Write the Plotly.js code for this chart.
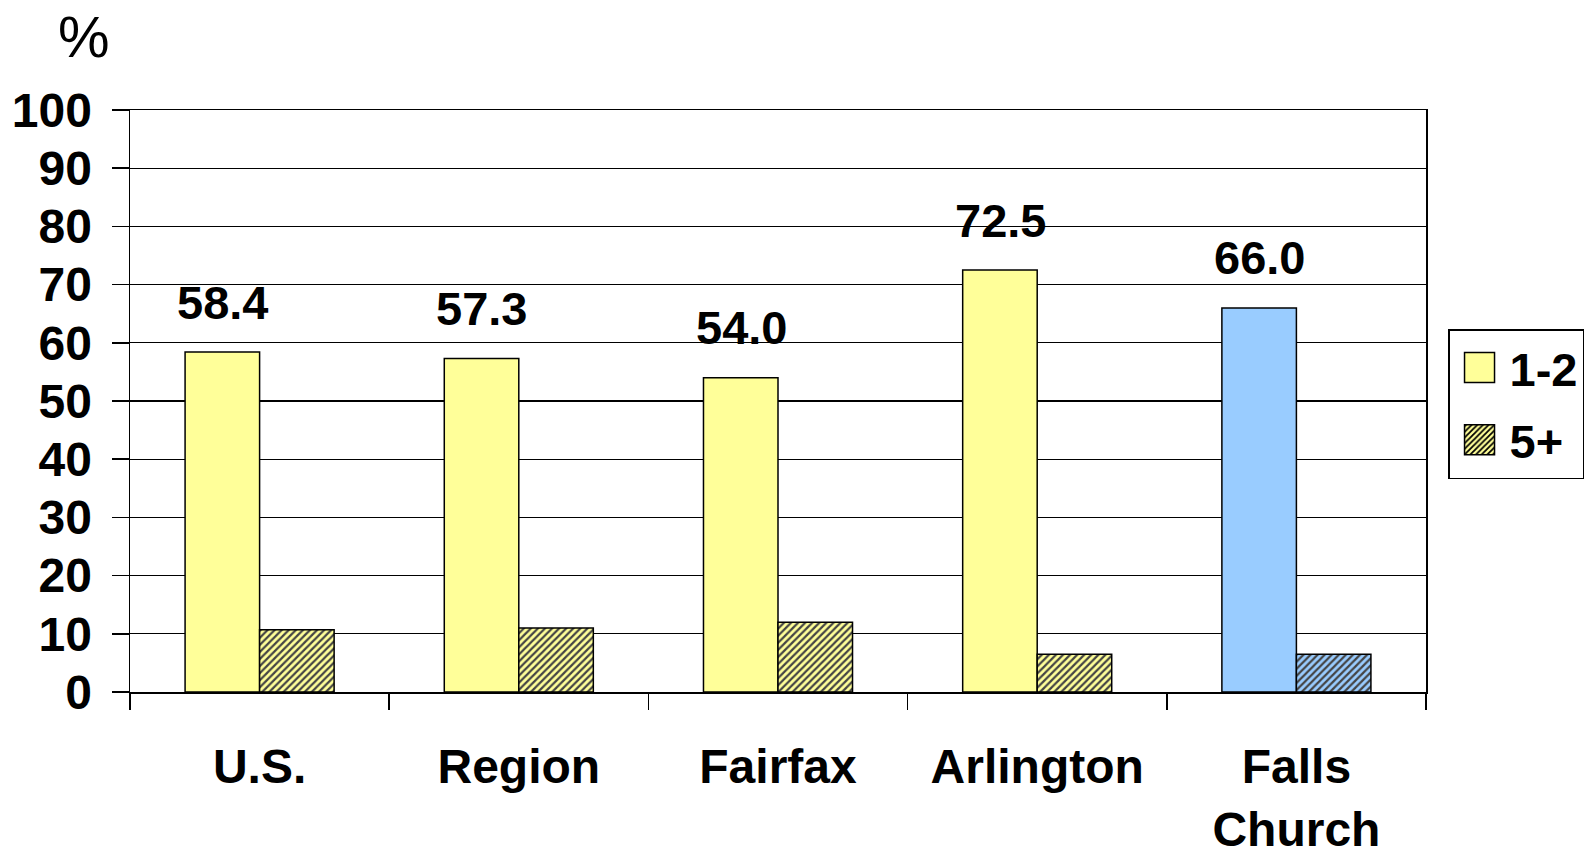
<!DOCTYPE html>
<html>
<head>
<meta charset="utf-8">
<script src="https://cdn.plot.ly/plotly-3.0.1.min.js"></script>
<style>
  html, body { margin: 0; padding: 0; background: #fff; }
  #chart { width: 1586px; height: 847px; }
</style>
</head>
<body>
<div id="chart"></div>
<script>
const categories = ["U.S.", "Region", "Fairfax", "Arlington", "Falls<br>Church"];
const seriesNames = ["1-2", "5+"];
const values12 = [58.4, 57.3, 54.0, 72.5, 66.0];
const values5 = [10.7, 11.0, 12.0, 6.5, 6.5];
const barColors = ["#FFFF99", "#FFFF99", "#FFFF99", "#FFFF99", "#99CCFF"];
const labels12 = ["58.4", "57.3", "54.0", "72.5", "66.0"];
const yTicks = [0, 10, 20, 30, 40, 50, 60, 70, 80, 90, 100];

const FONT = '"Liberation Sans", Arial, sans-serif';

const traces = [
  {
    type: 'bar', name: seriesNames[0], x: categories, y: values12,
    legendgroup: 'a',
    marker: { color: barColors, line: { color: '#000', width: 1.5 } },
    hoverinfo: 'skip'
  },
  {
    type: 'bar', name: seriesNames[1], x: categories, y: values5,
    legendgroup: 'b',
    marker: {
      color: barColors,
      line: { color: '#000', width: 1.5 },
      pattern: { shape: '/', fgcolor: '#000', fgopacity: 1, size: 5, solidity: 0.45, fillmode: 'overlay' }
    },
    hoverinfo: 'skip'
  }
];

const annotations = categories.map((c, i) => ({
  x: c, y: values12[i], xref: 'x', yref: 'y',
  text: labels12[i], showarrow: false,
  xshift: -37, yshift: 50, yanchor: 'middle',
  font: { family: FONT, size: 47, color: '#000', weight: 'bold' }
}));
annotations.push({
  x: -0.0355, y: 1.126, xref: 'paper', yref: 'paper',
  text: '%', showarrow: false, xanchor: 'center', yanchor: 'middle',
  font: { family: FONT, size: 58, color: '#000', weight: 'normal' }
});

const layout = {
  width: 1586, height: 847,
  margin: { l: 130, r: 160, t: 110, b: 155, pad: 0, autoexpand: false },
  paper_bgcolor: '#fff', plot_bgcolor: '#fff',
  barmode: 'group', bargap: 0.425, bargroupgap: 0,
  font: { family: FONT, size: 48, color: '#000', weight: 'bold' },
  showlegend: true,
  legend: {
    x: 1.017, y: 0.6237, xanchor: 'left', yanchor: 'top',
    bgcolor: '#fff', bordercolor: '#000', borderwidth: 1.5,
    font: { family: FONT, size: 47, color: '#000', weight: 'bold' },
    tracegroupgap: 8, itemwidth: 50
  },
  xaxis: {
    type: 'category', tickson: 'boundaries', ticks: 'outside', ticklen: 16,
    tickwidth: 1.5, tickcolor: '#000', showline: true, linecolor: '#000', linewidth: 1.5,
    mirror: true, showgrid: false, ticklabelstandoff: 32,
    tickfont: { family: FONT, size: 48, color: '#000', weight: 'bold' }
  },
  yaxis: {
    range: [0, 100], tickvals: yTicks, ticktext: yTicks.map(String),
    ticks: 'outside', ticklen: 17, tickwidth: 1.5, tickcolor: '#000',
    showline: true, linecolor: '#000', linewidth: 1.5, mirror: true,
    showgrid: true, gridcolor: '#000', gridwidth: 1.3, zeroline: false,
    ticklabelstandoff: 10,
    tickfont: { family: FONT, size: 48, color: '#000', weight: 'bold' }
  },
  annotations: annotations
};

Plotly.newPlot('chart', traces, layout, { displayModeBar: false, staticPlot: true }).then(gd => {
  gd.querySelectorAll('.legend .legendpoints path').forEach(p => {
    p.setAttribute('d', 'M15,15H-15V-15H15Z');
  });
});
</script>
</body>
</html>
